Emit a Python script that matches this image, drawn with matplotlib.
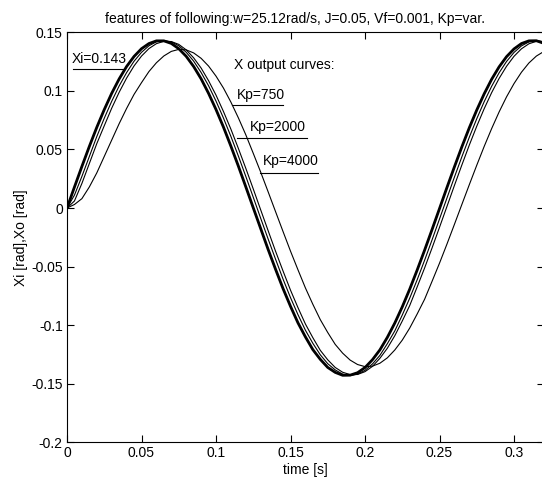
import numpy as np
import matplotlib
matplotlib.use('Agg')
import matplotlib.pyplot as plt

plt.rcParams['font.family'] = ['Liberation Sans Narrow', 'Liberation Sans', 'DejaVu Sans']

# time axis [s], step 5 ms
t = [0.000, 0.005, 0.010, 0.015, 0.020, 0.025, 0.030, 0.035, 0.040, 0.045,
     0.050, 0.055, 0.060, 0.065, 0.070, 0.075, 0.080, 0.085, 0.090, 0.095,
     0.100, 0.105, 0.110, 0.115, 0.120, 0.125, 0.130, 0.135, 0.140, 0.145,
     0.150, 0.155, 0.160, 0.165, 0.170, 0.175, 0.180, 0.185, 0.190, 0.195,
     0.200, 0.205, 0.210, 0.215, 0.220, 0.225, 0.230, 0.235, 0.240, 0.245,
     0.250, 0.255, 0.260, 0.265, 0.270, 0.275, 0.280, 0.285, 0.290, 0.295,
     0.300, 0.305, 0.310, 0.315, 0.320]

# input Xi [rad]
xi = [0.0, 0.0179, 0.0355, 0.0526, 0.0689, 0.0840, 0.0979, 0.1102, 0.1208, 0.1294,
      0.1360, 0.1404, 0.1427, 0.1427, 0.1405, 0.1360, 0.1295, 0.1208, 0.1103, 0.0979,
      0.0841, 0.0691, 0.0528, 0.0358, 0.0181, 0.0002, -0.0176, -0.0354, -0.0524, -0.0688,
      -0.0839, -0.0980, -0.1100, -0.1209, -0.1292, -0.1361, -0.1403, -0.1428, -0.1427, -0.1406,
      -0.1362, -0.1295, -0.1211, -0.1104, -0.0982, -0.0844, -0.0693, -0.0530, -0.0360, -0.0184,
      -0.0005, 0.0175, 0.0351, 0.0522, 0.0685, 0.0836, 0.0975, 0.1099, 0.1205, 0.1292,
      0.1358, 0.1404, 0.1427, 0.1428, 0.1406]

# outputs Xo [rad]
xo_4000 = [0.0, 0.0110, 0.0270, 0.0440, 0.0610, 0.0766, 0.0911, 0.1042, 0.1156, 0.1253,
           0.1329, 0.1385, 0.1419, 0.1430, 0.1419, 0.1385, 0.1330, 0.1254, 0.1157, 0.1044,
           0.0913, 0.0768, 0.0611, 0.0444, 0.0270, 0.0092, -0.0088, -0.0265, -0.0438, -0.0607,
           -0.0765, -0.0910, -0.1043, -0.1155, -0.1253, -0.1329, -0.1382, -0.1418, -0.1430, -0.1419,
           -0.1386, -0.1331, -0.1258, -0.1158, -0.1049, -0.0914, -0.0770, -0.0613, -0.0446, -0.0272,
           -0.0094, 0.0085, 0.0263, 0.0437, 0.0604, 0.0762, 0.0908, 0.1039, 0.1154, 0.1251,
           0.1328, 0.1384, 0.1418, 0.1430, 0.1419]

xo_2000 = [0.0, 0.0060, 0.0210, 0.0380, 0.0550, 0.0702, 0.0852, 0.0988, 0.1109, 0.1213,
           0.1297, 0.1361, 0.1403, 0.1423, 0.1421, 0.1397, 0.1350, 0.1282, 0.1195, 0.1087,
           0.0964, 0.0824, 0.0673, 0.0509, 0.0339, 0.0163, -0.0016, -0.0194, -0.0370, -0.0538,
           -0.0701, -0.0850, -0.0990, -0.1107, -0.1215, -0.1296, -0.1361, -0.1402, -0.1422, -0.1421,
           -0.1397, -0.1352, -0.1283, -0.1197, -0.1090, -0.0965, -0.0833, -0.0674, -0.0512, -0.0341,
           -0.0165, 0.0013, 0.0192, 0.0367, 0.0537, 0.0698, 0.0848, 0.0985, 0.1106, 0.1210,
           0.1295, 0.1359, 0.1402, 0.1423, 0.1421]

xo_750 = [0.0, 0.0030, 0.0080, 0.0180, 0.0300, 0.0440, 0.0580, 0.0720, 0.0850, 0.0970,
          0.1070, 0.1165, 0.1240, 0.1298, 0.1337, 0.1354, 0.1350, 0.1324, 0.1278, 0.1212,
          0.1126, 0.1024, 0.0904, 0.0770, 0.0625, 0.0467, 0.0306, 0.0138, -0.0032, -0.0201,
          -0.0368, -0.0527, -0.0682, -0.0822, -0.0953, -0.1063, -0.1164, -0.1239, -0.1298, -0.1336,
          -0.1354, -0.1350, -0.1325, -0.1279, -0.1212, -0.1128, -0.1025, -0.0905, -0.0779, -0.0626,
          -0.0471, -0.0308, -0.0140, 0.0030, 0.0199, 0.0365, 0.0526, 0.0678, 0.0820, 0.0949,
          0.1062, 0.1159, 0.1238, 0.1297, 0.1336]

xticks = [0, 0.05, 0.1, 0.15, 0.2, 0.25, 0.3]
xticklabels = ['0', '0.05', '0.1', '0.15', '0.2', '0.25', '0.3']
yticks = [-0.2, -0.15, -0.1, -0.05, 0, 0.05, 0.1, 0.15]
yticklabels = ['-0.2', '-0.15', '-0.1', '-0.05', '0', '0.05', '0.1', '0.15']

fig = plt.figure(figsize=(5.42, 4.88), dpi=100)
ax = fig.add_axes([67/542, 45.7/488, 476.8/542, 410/488])

ax.plot(t, xo_750, color='k', lw=0.8)
ax.plot(t, xo_2000, color='k', lw=0.8)
ax.plot(t, xo_4000, color='k', lw=0.8)
ax.plot(t, xi, color='k', lw=2.0)

ax.set_xlim(0, 0.32)
ax.set_ylim(-0.2, 0.15)
ax.set_xticks(xticks)
ax.set_xticklabels(xticklabels)
ax.set_yticks(yticks)
ax.set_yticklabels(yticklabels)
ax.tick_params(direction='in', top=True, right=True, length=5, labelsize=10, pad=3)
for s in ax.spines.values():
    s.set_linewidth(0.8)

ax.set_xlabel('time [s]', fontsize=10, labelpad=2)
ax.set_ylabel('Xi [rad],Xo [rad]', fontsize=10, labelpad=2)
fig.text(295/542, 1 - 19/488, 'features of following:w=25.12rad/s, J=0.05, Vf=0.001, Kp=var.',
         ha='center', va='center', fontsize=10)

# labels with underline strokes
ax.text(0.0032, 0.1272, 'Xi=0.143', fontsize=10, va='center')
ax.plot([0.0038, 0.0376], [0.1184, 0.1184], color='k', lw=0.8)
ax.text(0.112, 0.122, 'X output curves:', fontsize=10, va='center')
ax.text(0.1139, 0.0964, 'Kp=750', fontsize=10, va='center')
ax.plot([0.1105, 0.1452], [0.0880, 0.0880], color='k', lw=0.8)
ax.text(0.1228, 0.0689, 'Kp=2000', fontsize=10, va='center')
ax.plot([0.1139, 0.1609], [0.0595, 0.0595], color='k', lw=0.8)
ax.text(0.1313, 0.0403, 'Kp=4000', fontsize=10, va='center')
ax.plot([0.1295, 0.1686], [0.0296, 0.0296], color='k', lw=0.8)

fig.savefig('out.png', dpi=100)
